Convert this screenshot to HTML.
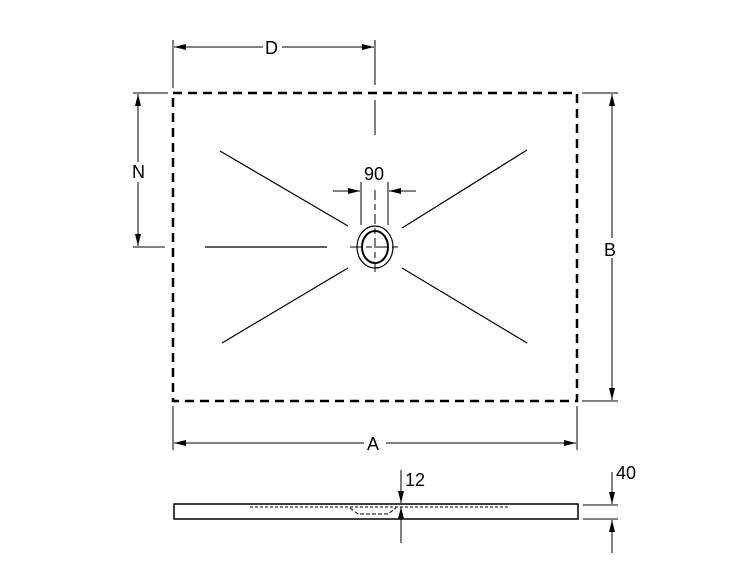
<!DOCTYPE html>
<html><head><style>
body{margin:0;background:#fff;}
svg{display:block;}
text{font-family:"Liberation Sans",sans-serif;font-size:18px;fill:#000;}
</style></head><body>
<svg width="750" height="563" viewBox="0 0 750 563">
<defs>
<marker id="a" viewBox="0 0 12 6" refX="12" refY="3" markerWidth="12" markerHeight="6" orient="auto-start-reverse" markerUnits="userSpaceOnUse"><path d="M0,0L12,3L0,6z" fill="#000"/></marker>
</defs>
<g stroke="#000" fill="none">
<rect x="173" y="93" width="404" height="308" stroke-width="2.5" stroke-dasharray="9,6"/>
<!-- D -->
<line x1="173" y1="40" x2="173" y2="88" stroke-width="1"/>
<line x1="375" y1="40" x2="375" y2="85" stroke-width="1"/>
<line x1="375" y1="100" x2="375" y2="135" stroke-width="1"/>
<line x1="174" y1="47" x2="263" y2="47" marker-start="url(#a)" stroke-width="1"/>
<line x1="282" y1="47" x2="374" y2="47" marker-end="url(#a)" stroke-width="1"/>
<!-- N -->
<line x1="133" y1="93" x2="168" y2="93" stroke-width="1"/>
<line x1="133" y1="247" x2="165" y2="247" stroke-width="1"/>
<line x1="138" y1="94" x2="138" y2="162" marker-start="url(#a)" stroke-width="1"/>
<line x1="138" y1="182" x2="138" y2="246" marker-end="url(#a)" stroke-width="1"/>
<!-- B -->
<line x1="582" y1="93" x2="618" y2="93" stroke-width="1"/>
<line x1="582" y1="401" x2="618" y2="401" stroke-width="1"/>
<line x1="612" y1="94" x2="612" y2="238" marker-start="url(#a)" stroke-width="1"/>
<line x1="612" y1="258" x2="612" y2="400" marker-end="url(#a)" stroke-width="1"/>
<!-- A -->
<line x1="173" y1="406" x2="173" y2="450" stroke-width="1"/>
<line x1="577" y1="406" x2="577" y2="450" stroke-width="1"/>
<line x1="174" y1="443" x2="364" y2="443" marker-start="url(#a)" stroke-width="1"/>
<line x1="386" y1="443" x2="576" y2="443" marker-end="url(#a)" stroke-width="1"/>
<!-- slope lines -->
<g stroke-width="1.2">
<line x1="220" y1="151" x2="348" y2="226"/>
<line x1="402" y1="228" x2="527" y2="150"/>
<line x1="348" y1="268" x2="222" y2="343"/>
<line x1="402" y1="268" x2="527" y2="343"/>
<line x1="205" y1="247" x2="327" y2="247"/>
</g>
<!-- drain -->
<ellipse cx="375" cy="247" rx="18" ry="21" stroke-width="1.2"/>
<ellipse cx="375" cy="247" rx="13" ry="16" stroke-width="2"/>
<line x1="350" y1="247" x2="400" y2="247" stroke-width="1" stroke-dasharray="12,4,6,4"/>
<line x1="375" y1="190" x2="375" y2="275" stroke-width="1" stroke-dasharray="10,4,6,4"/>
<!-- 90 -->
<line x1="361" y1="182" x2="361" y2="225" stroke-width="1"/>
<line x1="388" y1="182" x2="388" y2="225" stroke-width="1"/>
<line x1="333" y1="191" x2="360" y2="191" marker-end="url(#a)" stroke-width="1"/>
<line x1="416" y1="191" x2="389" y2="191" marker-end="url(#a)" stroke-width="1"/>
<!-- side view -->
<rect x="174" y="504" width="404" height="15" stroke-width="1.5"/>
<line x1="250" y1="507" x2="510" y2="507" stroke-width="1" stroke-dasharray="3,2"/>
<path d="M350,508 L358,514 L388,514 L396,508" stroke-width="1" stroke-dasharray="4,2"/>
<line x1="401" y1="470" x2="401" y2="503" marker-end="url(#a)" stroke-width="1"/>
<line x1="401" y1="543" x2="401" y2="507" marker-end="url(#a)" stroke-width="1"/>
<line x1="583" y1="505" x2="618" y2="505" stroke-width="1"/>
<line x1="583" y1="519" x2="618" y2="519" stroke-width="1"/>
<line x1="612" y1="472" x2="612" y2="504" marker-end="url(#a)" stroke-width="1"/>
<line x1="612" y1="553" x2="612" y2="520" marker-end="url(#a)" stroke-width="1"/>
</g>
<text x="265" y="54">D</text>
<text x="132" y="178">N</text>
<text x="604" y="256">B</text>
<text x="367" y="450">A</text>
<text x="364" y="180">90</text>
<text x="405" y="486">12</text>
<text x="616" y="479">40</text>
</svg>
</body></html>
